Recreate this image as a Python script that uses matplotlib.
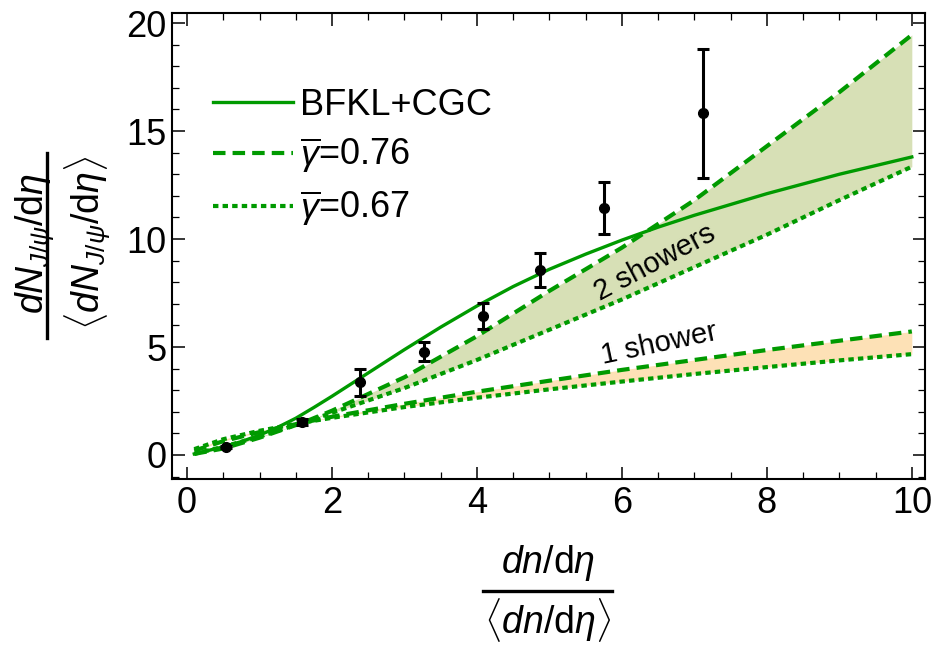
import numpy as np
import matplotlib
matplotlib.use('Agg')
import matplotlib.pyplot as plt
from matplotlib.lines import Line2D

plt.rcParams['font.family'] = ['Liberation Sans', 'DejaVu Sans']
plt.rcParams['mathtext.fontset'] = 'custom'
plt.rcParams['mathtext.rm'] = 'Liberation Sans'
plt.rcParams['mathtext.it'] = 'Liberation Sans:italic'
plt.rcParams['mathtext.bf'] = 'Liberation Sans:bold'

# datos experimentales
x_dat = [0.54, 1.59, 2.38, 3.27, 4.08, 4.87, 5.75, 7.12]
y_dat = [0.37, 1.53, 3.36, 4.78, 6.43, 8.56, 11.44, 15.82]
err_dat = [0.05, 0.15, 0.62, 0.44, 0.6, 0.8, 1.22, 3.0]

# BFKL+CGC
x_cgc = [0.1, 0.5, 0.75, 1.0, 1.25, 1.5, 1.75, 2.0, 2.25, 2.5, 3.0, 3.5, 4.0, 4.5, 5.0, 5.5, 6.0, 6.5, 7.0, 7.5, 8.0, 8.5, 9.0, 9.5, 10.0]
y_cgc = [0.05, 0.38, 0.62, 0.92, 1.28, 1.7, 2.2, 2.72, 3.26, 3.8, 4.88, 5.92, 6.9, 7.8, 8.6, 9.3, 9.95, 10.55, 11.1, 11.6, 12.1, 12.55, 13.0, 13.4, 13.8]

# curvas gamma
x_g = [0.1, 0.5, 1.0, 1.6, 2.0, 3.0, 4.0, 5.0, 6.0, 7.0, 8.0, 9.0, 10.0]
y2_076 = [0.05, 0.3, 0.8, 1.5, 2.05, 3.6, 5.5, 7.6, 9.6, 11.8, 14.3, 16.8, 19.45]
y2_067 = [0.05, 0.38, 0.85, 1.5, 1.95, 3.1, 4.4, 5.8, 7.2, 8.7, 10.2, 11.8, 13.35]
y1_076 = [0.2, 0.64, 1.06, 1.5, 1.77, 2.37, 2.93, 3.44, 3.94, 4.4, 4.86, 5.29, 5.72]
y1_067 = [0.27, 0.73, 1.12, 1.5, 1.72, 2.22, 2.65, 3.04, 3.4, 3.75, 4.07, 4.38, 4.67]

verde = '#009a00'

fig = plt.figure(figsize=(9.38, 6.57), dpi=100)
ax = fig.add_axes([0.1834, 0.271, 0.8026, 0.709])

ax.fill_between(x_g, y2_067, y2_076, color='#d7e0b6', lw=0)
ax.fill_between(x_g, y1_067, y1_076, color='#fde1b6', lw=0)

ax.plot(x_cgc, y_cgc, '-', color=verde, lw=2.4, label='BFKL+CGC')
ax.plot(x_g, y2_076, color=verde, lw=3, dashes=(3.0, 1.7), label=r'$\overline{\gamma}$=0.76')
ax.plot(x_g, y2_067, color=verde, lw=3, dashes=(1.3, 1.0), label=r'$\overline{\gamma}$=0.67')
ax.plot(x_g, y1_076, color=verde, lw=3, dashes=(3.0, 1.7))
ax.plot(x_g, y1_067, color=verde, lw=3, dashes=(1.3, 1.0))

ax.errorbar(x_dat, y_dat, yerr=err_dat, fmt='o', color='black', ms=7,
            elinewidth=2.2, capsize=4, capthick=2.2, zorder=5)

ax.text(6.46, 8.9, '2 showers', rotation=28, fontsize=21, ha='center', va='center')
ax.text(6.52, 5.14, '1 shower', rotation=12, fontsize=21, ha='center', va='center')

ax.set_xlim(-0.207, 10.18)
ax.set_ylim(-1.11, 20.46)
ax.set_xticks([0, 2, 4, 6, 8, 10])
ax.set_yticks([0, 5, 10, 15, 20])
ax.set_xticks(np.arange(0, 10.01, 0.5), minor=True)
ax.set_yticks(np.arange(-1, 20.01, 1), minor=True)
ax.tick_params(which='both', direction='in', top=True, right=True, labelsize=26)
ax.tick_params(axis='x', pad=5)
ax.tick_params(axis='y', pad=4)
ax.tick_params(which='major', length=9, width=1.1)
ax.tick_params(which='minor', length=5, width=0.9)
for s in ax.spines.values():
    s.set_linewidth(1.5)

leg = ax.legend(loc='upper left', bbox_to_anchor=(0.0546, 0.84), frameon=False,
                fontsize=26, handlelength=2.2, handletextpad=0.2, labelspacing=0.36,
                borderaxespad=0, borderpad=0)

# etiqueta eje y (fraccion)
fig.text(0.037, 0.630, r'$dN_{J/\psi}/\mathrm{d}\eta$', rotation=90, fontsize=27, ha='center', va='center')
fig.text(0.094, 0.630, r'$\langle dN_{J/\psi}/\mathrm{d}\eta\rangle$', rotation=90, fontsize=27, ha='center', va='center')
fig.add_artist(Line2D([0.050, 0.050], [0.486, 0.767], color='black', lw=2.4, transform=fig.transFigure))

# etiqueta eje x (fraccion)
fig.text(0.584, 0.143, r'$dn/\mathrm{d}\eta$', fontsize=27, ha='center', va='center')
fig.text(0.584, 0.056, r'$\langle dn/\mathrm{d}\eta\rangle$', fontsize=27, ha='center', va='center')
fig.add_artist(Line2D([0.515, 0.652], [0.100, 0.100], color='black', lw=2.4, transform=fig.transFigure))

plt.savefig('out.png', dpi=100)
